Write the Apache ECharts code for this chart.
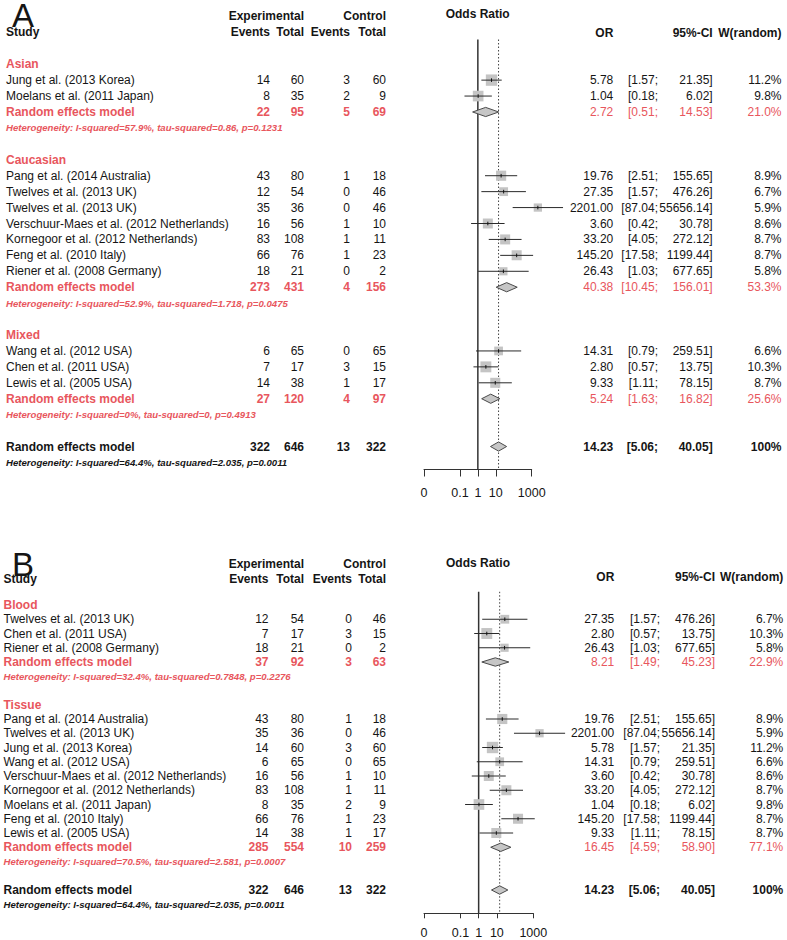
<!DOCTYPE html>
<html>
<head>
<meta charset="utf-8">
<script src="https://cdn.jsdelivr.net/npm/echarts@6/dist/echarts.min.js"></script>
<style>
  html, body { margin: 0; padding: 0; background: #fff; }
  #chart { width: 787px; height: 940px; }
</style>
</head>
<body>
<div id="chart"></div>
<script>
// ---- panel A: subgroups by ethnicity ----
const groupsA = ['Asian', 'Caucasian', 'Mixed'];
// [group, study, exp events, exp total, ctrl events, ctrl total, OR, lower, upper, weight %]
const studiesA = [
  ['Asian', 'Jung et al. (2013 Korea)', 14, 60, 3, 60, 5.78, 1.57, 21.35, 11.2],
  ['Asian', 'Moelans et al. (2011 Japan)', 8, 35, 2, 9, 1.04, 0.18, 6.02, 9.8],
  ['Caucasian', 'Pang et al. (2014 Australia)', 43, 80, 1, 18, 19.76, 2.51, 155.65, 8.9],
  ['Caucasian', 'Twelves et al. (2013 UK)', 12, 54, 0, 46, 27.35, 1.57, 476.26, 6.7],
  ['Caucasian', 'Twelves et al. (2013 UK)', 35, 36, 0, 46, 2201.00, 87.04, 55656.14, 5.9],
  ['Caucasian', 'Verschuur-Maes et al. (2012 Netherlands)', 16, 56, 1, 10, 3.60, 0.42, 30.78, 8.6],
  ['Caucasian', 'Kornegoor et al. (2012 Netherlands)', 83, 108, 1, 11, 33.20, 4.05, 272.12, 8.7],
  ['Caucasian', 'Feng et al. (2010 Italy)', 66, 76, 1, 23, 145.20, 17.58, 1199.44, 8.7],
  ['Caucasian', 'Riener et al. (2008 Germany)', 18, 21, 0, 2, 26.43, 1.03, 677.65, 5.8],
  ['Mixed', 'Wang et al. (2012 USA)', 6, 65, 0, 65, 14.31, 0.79, 259.51, 6.6],
  ['Mixed', 'Chen et al. (2011 USA)', 7, 17, 3, 15, 2.80, 0.57, 13.75, 10.3],
  ['Mixed', 'Lewis et al. (2005 USA)', 14, 38, 1, 17, 9.33, 1.11, 78.15, 8.7]
];
// pooled per subgroup: [exp events, exp total, ctrl events, ctrl total, OR, lower, upper, weight %]
const pooledA = [
  [22, 95, 5, 69, 2.72, 0.51, 14.53, 21.0],
  [273, 431, 4, 156, 40.38, 10.45, 156.01, 53.3],
  [27, 120, 4, 97, 5.24, 1.63, 16.82, 25.6]
];
const hetA = [
  'Heterogeneity: I-squared=57.9%, tau-squared=0.86, p=0.1231',
  'Heterogeneity: I-squared=52.9%, tau-squared=1.718, p=0.0475',
  'Heterogeneity: I-squared=0%, tau-squared=0, p=0.4913'
];

// ---- panel B: subgroups by sample type ----
const groupsB = ['Blood', 'Tissue'];
const studiesB = [
  ['Blood', 'Twelves et al. (2013 UK)', 12, 54, 0, 46, 27.35, 1.57, 476.26, 6.7],
  ['Blood', 'Chen et al. (2011 USA)', 7, 17, 3, 15, 2.80, 0.57, 13.75, 10.3],
  ['Blood', 'Riener et al. (2008 Germany)', 18, 21, 0, 2, 26.43, 1.03, 677.65, 5.8],
  ['Tissue', 'Pang et al. (2014 Australia)', 43, 80, 1, 18, 19.76, 2.51, 155.65, 8.9],
  ['Tissue', 'Twelves et al. (2013 UK)', 35, 36, 0, 46, 2201.00, 87.04, 55656.14, 5.9],
  ['Tissue', 'Jung et al. (2013 Korea)', 14, 60, 3, 60, 5.78, 1.57, 21.35, 11.2],
  ['Tissue', 'Wang et al. (2012 USA)', 6, 65, 0, 65, 14.31, 0.79, 259.51, 6.6],
  ['Tissue', 'Verschuur-Maes et al. (2012 Netherlands)', 16, 56, 1, 10, 3.60, 0.42, 30.78, 8.6],
  ['Tissue', 'Kornegoor et al. (2012 Netherlands)', 83, 108, 1, 11, 33.20, 4.05, 272.12, 8.7],
  ['Tissue', 'Moelans et al. (2011 Japan)', 8, 35, 2, 9, 1.04, 0.18, 6.02, 9.8],
  ['Tissue', 'Feng et al. (2010 Italy)', 66, 76, 1, 23, 145.20, 17.58, 1199.44, 8.7],
  ['Tissue', 'Lewis et al. (2005 USA)', 14, 38, 1, 17, 9.33, 1.11, 78.15, 8.7]
];
const pooledB = [
  [37, 92, 3, 63, 8.21, 1.49, 45.23, 22.9],
  [285, 554, 10, 259, 16.45, 4.59, 58.90, 77.1]
];
const hetB = [
  'Heterogeneity: I-squared=32.4%, tau-squared=0.7848, p=0.2276',
  'Heterogeneity: I-squared=70.5%, tau-squared=2.581, p=0.0007'
];

// overall random effects (same in both panels)
const overall = [322, 646, 13, 322, 14.23, 5.06, 40.05, 100];
const overallHet = 'Heterogeneity: I-squared=64.4%, tau-squared=2.035, p=0.0011';

// odds ratio axis
const tickValues = [0.001, 0.1, 1, 10, 1000];
const tickLabels = ['0', '0.1', '1', '10', '1000'];
const refLines = [1, 14.23]; // no effect, pooled estimate

// ---- look ----
const FONT = "'Liberation Sans', Arial, sans-serif";
const RED = '#e8565d';
const INK = '#151515';

const layoutA = {
  letter: 'A', letterX: 12, top: 39.5, bottom: 469.5, row0: 64.2, pitch: 15.93, left: 424, right: 531.7,
  cols: { name: 6, ee: 270, et: 304, ce: 350, ct: 386, or: 613.3, lo: 658, hi: 712.7, w: 781.5 },
  head: { letter: 15, exp: 16, sub: 32, odds: 14, or: 32.7 }, oddsX: 477.7,
  tickLen: 7, labelMargin: 17, diamondH: 4.6
};
const layoutB = {
  letter: 'B', letterX: 12, top: 591.7, bottom: 913.3, row0: 605, pitch: 14.25, left: 424, right: 533.3,
  cols: { name: 3.5, ee: 268.5, et: 304, ce: 352, ct: 386, or: 614.3, lo: 660, hi: 715, w: 783.3 },
  head: { letter: 564, exp: 564, sub: 579, odds: 562.7, or: 576.7 }, oddsX: 478,
  tickLen: 5, labelMargin: 13, diamondH: 4.2
};

function buildRows(groups, studies, pooled, het) {
  const rows = [];
  groups.forEach((g, gi) => {
    rows.push({ kind: 'group', label: g });
    studies.filter(s => s[0] === g).forEach(s => {
      rows.push({ kind: 'study', label: s[1], counts: s.slice(2, 6), est: s.slice(6, 9), w: s[9] });
    });
    const p = pooled[gi];
    rows.push({ kind: 'sub', label: 'Random effects model', counts: p.slice(0, 4), est: p.slice(4, 7), w: p[7] });
    rows.push({ kind: 'het', label: het[gi], color: RED });
    rows.push({ kind: 'blank' });
  });
  rows.push({ kind: 'total', label: 'Random effects model', counts: overall.slice(0, 4), est: overall.slice(4, 7), w: overall[7] });
  rows.push({ kind: 'het', label: overallHet, color: INK });
  return rows;
}

const rowsA = buildRows(groupsA, studiesA, pooledA, hetA);
const rowsB = buildRows(groupsB, studiesB, pooledB, hetB);

function makeRenderer(rows, L) {
  const C = L.cols;
  return function (params, api) {
    const i = params.dataIndex;
    const r = rows[i];
    const y = api.coord([1, i])[1];
    const kids = [];
    const txt = (s, x, align, opt) => kids.push({
      type: 'text', silent: true,
      style: Object.assign({ text: s, x: x, y: y, align: align, verticalAlign: 'middle',
        fontFamily: FONT, fontSize: 12, fontWeight: 'normal', fill: INK }, opt || {})
    });
    if (r.kind === 'blank') return { type: 'group', children: [] };
    if (r.kind === 'group') {
      txt(r.label, C.name, 'left', { fill: RED, fontWeight: 'bold' });
      return { type: 'group', children: kids };
    }
    if (r.kind === 'het') {
      txt(r.label, C.name, 'left', { fill: r.color, fontWeight: 'bold', fontStyle: 'italic', fontSize: 9.6 });
      return { type: 'group', children: kids };
    }
    const leftOpt = r.kind === 'study' ? {} : { fontWeight: 'bold', fill: r.kind === 'sub' ? RED : INK };
    const rightOpt = r.kind === 'study' ? {} : (r.kind === 'sub' ? { fill: RED } : { fontWeight: 'bold' });
    txt(r.label, C.name, 'left', leftOpt);
    txt(String(r.counts[0]), C.ee, 'right', leftOpt);
    txt(String(r.counts[1]), C.et, 'right', leftOpt);
    txt(String(r.counts[2]), C.ce, 'right', leftOpt);
    txt(String(r.counts[3]), C.ct, 'right', leftOpt);
    const or = r.est[0], lo = r.est[1], hi = r.est[2];
    txt(or.toFixed(2), C.or, 'right', rightOpt);
    txt('[' + lo.toFixed(2) + ';', C.lo, 'right', rightOpt);
    txt(hi.toFixed(2) + ']', C.hi, 'right', rightOpt);
    txt(r.w === 100 ? '100%' : r.w.toFixed(1) + '%', C.w, 'right', rightOpt);

    const pOr = api.coord([or, i]);
    const pLo = api.coord([lo, i]);
    const pHi = api.coord([hi, i]);
    if (r.kind === 'study') {
      const s = 3.4 * Math.sqrt(r.w);
      kids.push({ type: 'rect', silent: true, shape: { x: pOr[0] - s / 2, y: y - s / 2, width: s, height: s },
        style: { fill: '#c4c4c4' } });
      kids.push({ type: 'line', silent: true, shape: { x1: pLo[0], y1: y, x2: pHi[0], y2: y },
        style: { stroke: '#2a2a2a', lineWidth: 1 } });
      kids.push({ type: 'line', silent: true, shape: { x1: pOr[0], y1: y - 1.8, x2: pOr[0], y2: y + 1.8 },
        style: { stroke: '#111', lineWidth: 1 } });
    } else {
      const h = L.diamondH;
      kids.push({ type: 'polygon', silent: true,
        shape: { points: [[pLo[0], y], [pOr[0], y - h], [pHi[0], y], [pOr[0], y + h]] },
        style: { fill: '#c6c6c6', stroke: '#4a4a4a', lineWidth: 1 } });
    }
    return { type: 'group', children: kids };
  };
}

function headerGraphics(L) {
  const H = L.head, C = L.cols;
  const t = (text, x, y, align, size, weight) => ({
    type: 'text', x: x, y: y, silent: true,
    style: { text: text, align: align, verticalAlign: 'middle', fontFamily: FONT,
      fontSize: size, fontWeight: weight, fill: INK }
  });
  return [
    t(L.letter, L.letterX, H.letter, 'left', 33, 'normal'),
    t('Study', C.name, H.sub, 'left', 12, 'bold'),
    t('Experimental', C.et, H.exp, 'right', 12, 'bold'),
    t('Control', C.ct, H.exp, 'right', 12, 'bold'),
    t('Events', C.ee, H.sub, 'right', 12, 'bold'),
    t('Total', C.et, H.sub, 'right', 12, 'bold'),
    t('Events', C.ce, H.sub, 'right', 12, 'bold'),
    t('Total', C.ct, H.sub, 'right', 12, 'bold'),
    t('Odds Ratio', L.oddsX, H.odds, 'center', 12, 'bold'),
    t('OR', C.or, H.or, 'right', 12, 'bold'),
    t('95%-CI', C.hi, H.or, 'right', 12, 'bold'),
    t('W(random)', C.w, H.or, 'right', 12, 'bold')
  ];
}

const tickExps = tickValues.map(v => Math.log10(v));
const expMin = tickExps[0], expMax = tickExps[tickExps.length - 1];

const grids = [], xAxes = [], yAxes = [], series = [];
[[rowsA, layoutA], [rowsB, layoutB]].forEach(([rows, L], k) => {
  grids.push({ left: L.left, top: L.top, width: L.right - L.left, height: L.bottom - L.top });
  const yMin = (L.top - L.row0) / L.pitch;
  const yMax = (L.bottom - L.row0) / L.pitch;
  // data axis (odds ratio, log scale)
  xAxes.push({ type: 'log', logBase: 10, gridIndex: k, min: tickValues[0], max: tickValues[tickValues.length - 1],
    show: true, axisLine: { show: false }, axisTick: { show: false }, axisLabel: { show: false },
    splitLine: { show: false } });
  // visible axis in log10 units, same span
  xAxes.push({ type: 'value', gridIndex: k, position: 'bottom', min: expMin, max: expMax,
    axisLine: { show: true, onZero: false, lineStyle: { color: '#333', width: 1 } },
    axisTick: { show: true, customValues: tickExps, length: L.tickLen, lineStyle: { color: '#333', width: 1 } },
    axisLabel: { show: true, customValues: tickExps, margin: L.labelMargin, color: INK, fontSize: 12.5,
      fontFamily: FONT,
      formatter: v => tickLabels[tickExps.findIndex(e => Math.abs(e - v) < 1e-9)] },
    splitLine: { show: false } });
  yAxes.push({ type: 'value', gridIndex: k, inverse: true, min: yMin, max: yMax, show: false });

  series.push({
    type: 'custom', xAxisIndex: 2 * k, yAxisIndex: k, clip: false, silent: true, z: 5,
    renderItem: makeRenderer(rows, L),
    encode: { x: 0, y: 1 },
    data: rows.map((r, i) => [r.est ? r.est[0] : 1, i])
  });
  series.push({
    type: 'line', xAxisIndex: 2 * k, yAxisIndex: k, symbol: 'none', silent: true, z: 2,
    data: [[refLines[0], yMin], [refLines[0], yMax]],
    lineStyle: { color: '#333', width: 1.5 }
  });
  series.push({
    type: 'line', xAxisIndex: 2 * k, yAxisIndex: k, symbol: 'none', silent: true, z: 2,
    data: [[refLines[1], yMin], [refLines[1], yMax]],
    lineStyle: { color: '#444', width: 1, type: [1.5, 2] }
  });
});

const chart = echarts.init(document.getElementById('chart'), null, { renderer: 'svg', width: 787, height: 940 });
chart.setOption({
  backgroundColor: '#fff',
  animation: false,
  grid: grids,
  xAxis: xAxes,
  yAxis: yAxes,
  series: series,
  graphic: headerGraphics(layoutA).concat(headerGraphics(layoutB))
});
</script>
</body>
</html>
